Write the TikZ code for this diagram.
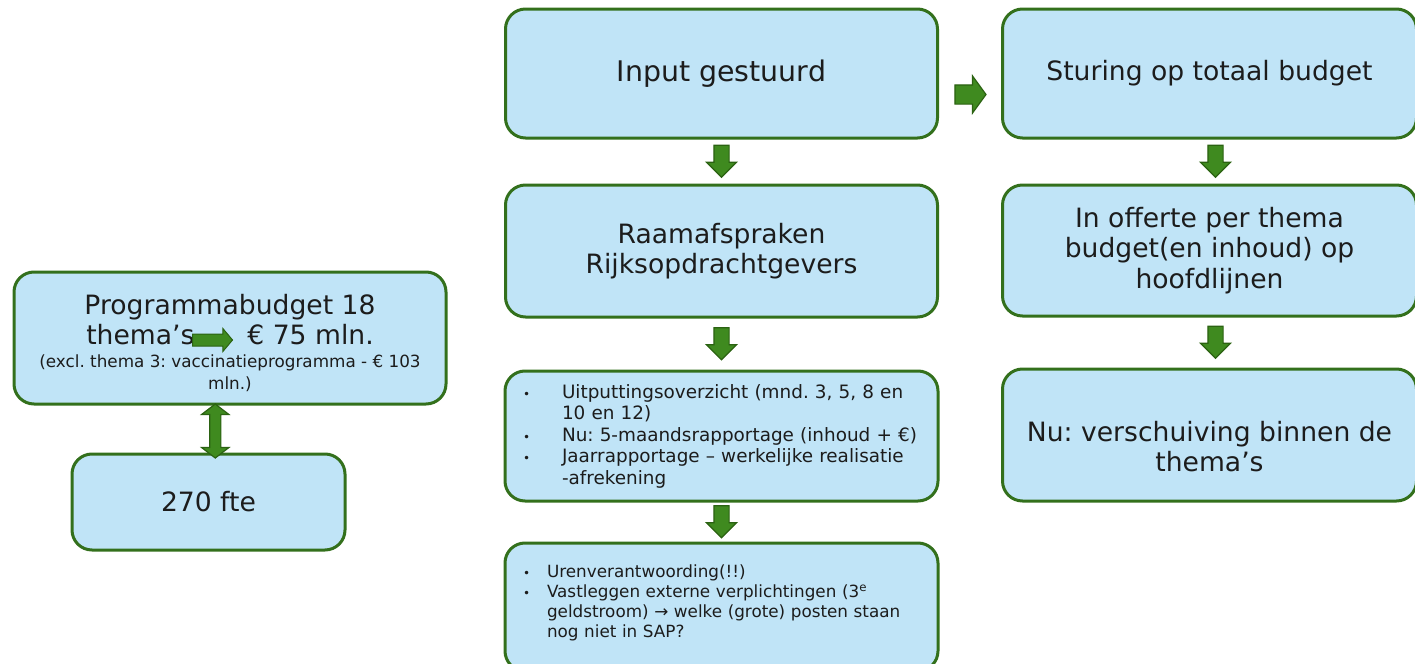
\documentclass[tikz,border=0pt]{standalone}
\usepackage{fontspec}
\setmainfont{DejaVu Sans}
\usetikzlibrary{positioning,calc,shapes.arrows}
\definecolor{BoxFill}{HTML}{C0E4F7}
\definecolor{BoxLine}{HTML}{33701C}
\definecolor{ArrowFill}{HTML}{3F8A1F}
\definecolor{ArrowLine}{HTML}{2B6212}
\definecolor{InkText}{HTML}{1C1C1C}
\newcommand{\bigfont}{\fontsize{13.3}{15.25}\selectfont\frenchspacing}
\newcommand{\inputfont}{\fontsize{14.2}{16}\selectfont}
\newcommand{\smallfont}{\fontsize{8.4}{10}\selectfont}
\newcommand{\listfont}{\fontsize{9.2}{10.75}\selectfont\frenchspacing}
\newcommand{\urenfont}{\fontsize{8.4}{10}\selectfont\frenchspacing}
\newcommand{\bul}[1]{\makebox[#1][l]{\fontsize{6}{6}\selectfont •}}
\tikzset{
  stepbox/.style={draw=BoxLine, line width=1.5pt, rounded corners=10pt, fill=BoxFill,
    align=center, text=InkText, font=\bigfont, minimum width=216pt, minimum height=65pt, inner sep=4pt},
  listbox/.style={stepbox, align=left, font=\listfont, text width=198.5pt, inner xsep=9pt},
  downarrow/.style={single arrow, draw=ArrowLine, fill=ArrowFill, line width=0.6pt, inner xsep=0pt, inner ysep=3.5pt,
    minimum height=16pt, single arrow head extend=3.75pt, rotate=-90},
  rightarrow/.style={single arrow, draw=ArrowLine, fill=ArrowFill, line width=0.6pt, inner xsep=0pt, inner ysep=4.5pt,
    minimum height=15.5pt, single arrow head extend=4.5pt, single arrow tip angle=108},
  inlinearrow/.style={single arrow, draw=ArrowLine, fill=ArrowFill, line width=0.5pt, inner xsep=0pt, inner ysep=2.75pt,
    minimum height=20pt, single arrow head extend=2.75pt, single arrow tip angle=100},
  bothways/.style={double arrow, draw=ArrowLine, fill=ArrowFill, line width=0.6pt, inner xsep=0pt, inner ysep=2.5pt,
    minimum height=27pt, double arrow head extend=4pt, double arrow tip angle=105, rotate=90}
}

\begin{document}
\begin{tikzpicture}[x=0.5pt, y=-0.5pt, node distance=22pt and 31pt]
  \useasboundingbox (0,0) rectangle (1415,664);
  % left block
  \node[stepbox, minimum height=66pt] (budget) at (230,338)
    {\rule{0pt}{14.7pt}Programmabudget 18\\thema’s\hspace{26.5pt}€ 75 mln.\\[-3.75pt]{\smallfont (excl. thema 3: vaccinatieprogramma - € 103}\\[-4.5pt]{\smallfont mln.)}};
  \node[inlinearrow] (themaarrow) at ($(budget.center)+(-20,2)$) {};
  \node[stepbox, minimum width=136.5pt, minimum height=48pt, below=23.5pt of budget, xshift=-10.75pt] (fte) {270 fte};
  \node[bothways] (link) at ($(budget.south)!0.5!(fte.north)+(-4,2)$) {};
  % middle column
  \node[stepbox, font=\inputfont, minimum height=64.5pt] (input) at (721.5,73.5) {Input gestuurd};
  \node[stepbox, minimum height=66pt, below=of input] (raam) {Raamafspraken\\Rijksopdrachtgevers};
  \node[listbox, below=25.5pt of raam] (uitput)
    {\bul{19.5pt}Uitputtingsoverzicht (mnd. 3, 5, 8 en\\
     \hspace*{19.5pt}10 en 12)\\
     \bul{19.5pt}Nu: 5-maandsrapportage (inhoud + €)\\
     \bul{19.5pt}Jaarrapportage – werkelijke realisatie\\
     \hspace*{19.5pt}-afrekening};
  \node[listbox, font=\urenfont, minimum height=64pt, below=19.5pt of uitput] (uren)
    {\bul{12pt}Urenverantwoording(!!)\\
     \bul{12pt}Vastleggen externe verplichtingen (3\textsuperscript{e}\\
     \hspace*{12pt}geldstroom) → welke (grote) posten staan\\
     \hspace*{12pt}nog niet in SAP?\rule[-6pt]{0pt}{6pt}};
  % right column
  \node[stepbox, minimum width=207pt, minimum height=64.5pt, right=of input] (sturing) {Sturing op totaal budget};
  \node[stepbox, minimum width=207pt, minimum height=65.5pt, below=of sturing] (offerte)
    {In offerte per thema\\budget(en inhoud) op\\hoofdlijnen};
  \node[stepbox, minimum width=207pt, minimum height=66pt, below=25pt of offerte] (nu)
    {\rule{0pt}{21.5pt}Nu: verschuiving binnen de\\thema’s};
  % arrows
  \node[downarrow] (step1) at ($(input.south)!0.5!(raam.north)+(0,-4)$) {};
  \node[downarrow] (step2) at ($(raam.south)!0.5!(uitput.north)+(0,-4)$) {};
  \node[downarrow] (step3) at ($(uitput.south)!0.5!(uren.north)+(0,-4)$) {};
  \node[rightarrow] (shift) at ($(input.east)!0.5!(sturing.west)+(-3,21)$) {};
  \node[downarrow] (step4) at ($(sturing.south)!0.5!(offerte.north)+(6,-4)$) {};
  \node[downarrow] (step5) at ($(offerte.south)!0.5!(nu.north)+(6,-4)$) {};
\end{tikzpicture}
\end{document}
